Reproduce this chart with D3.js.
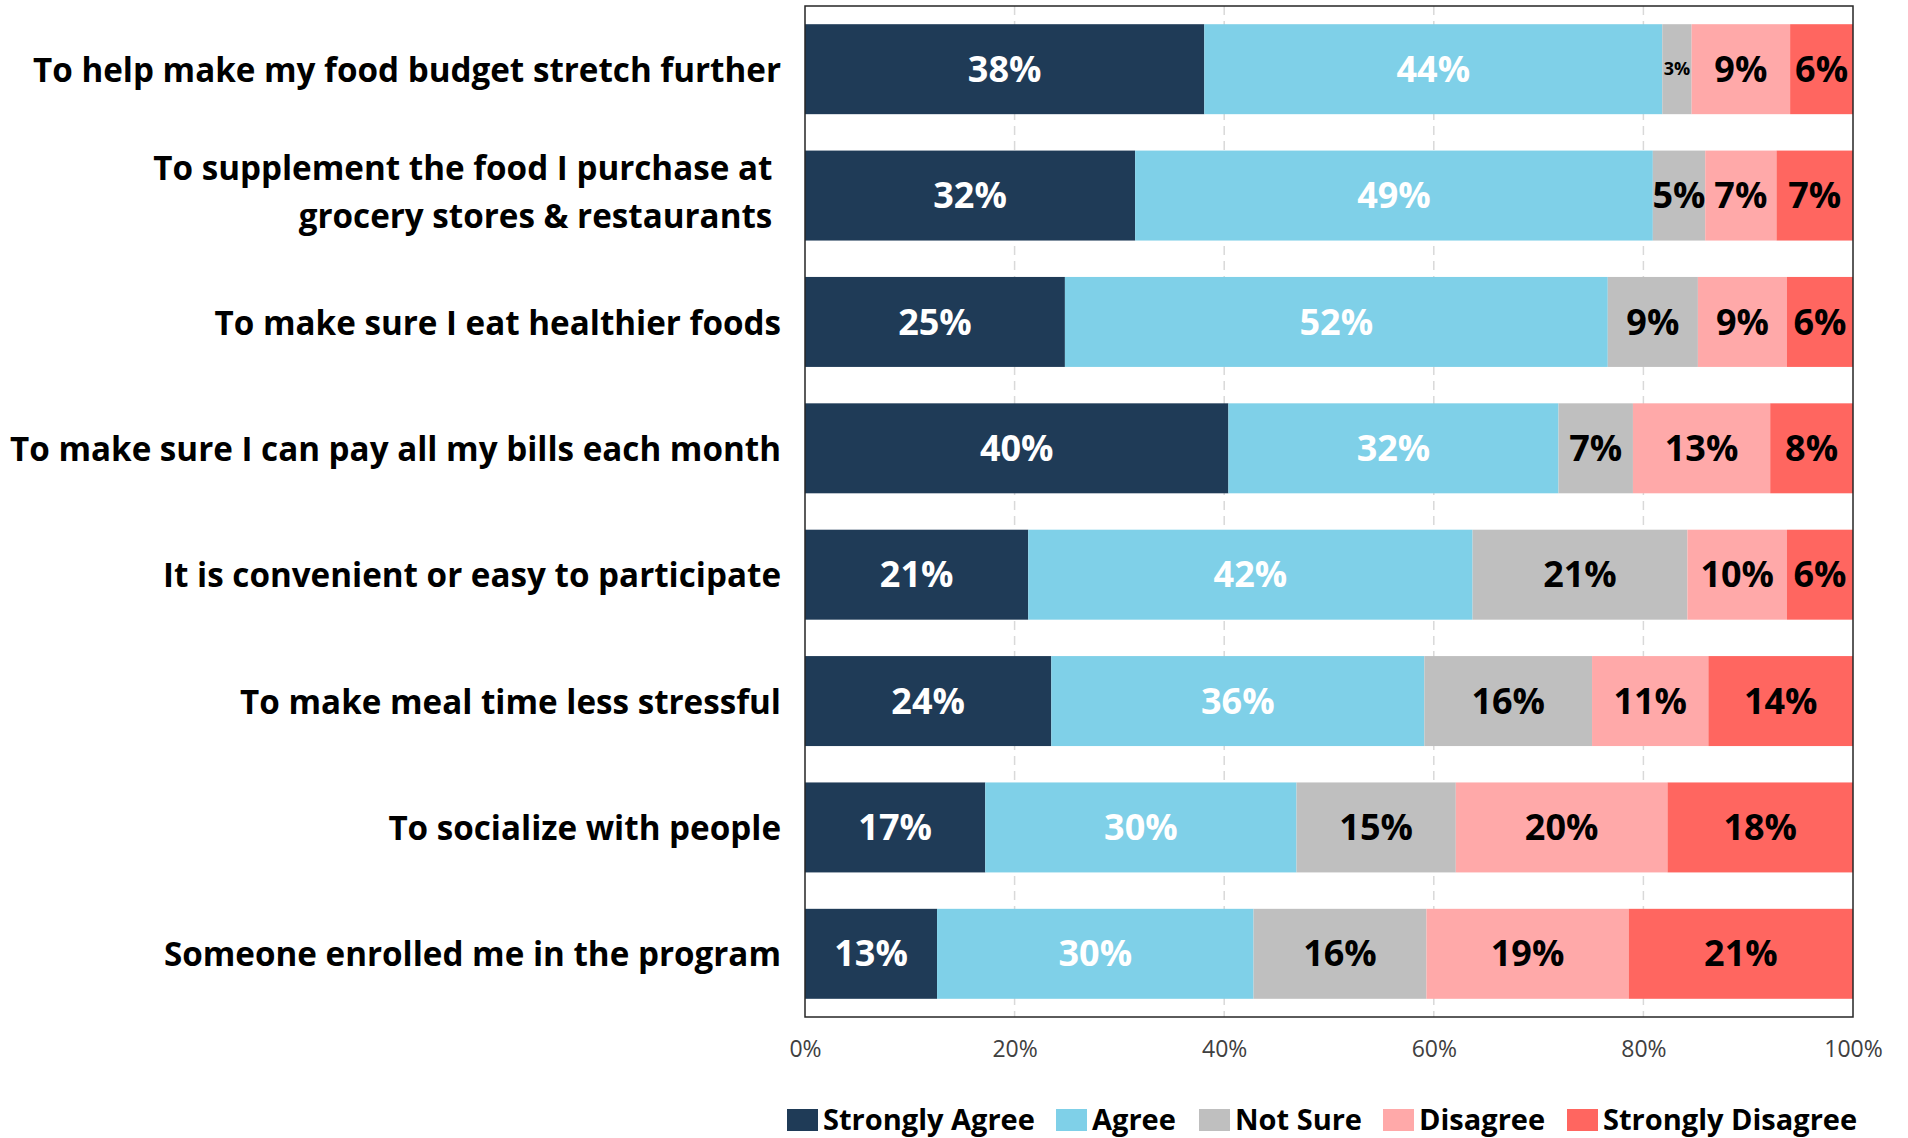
<!DOCTYPE html>
<html>
<head>
<meta charset="utf-8">
<script src="https://cdn.jsdelivr.net/npm/d3@7"></script>
<style>
  body { margin: 0; background: #fff; }
  svg { display: block; font-family: 'Open Sans', sans-serif; }
</style>
</head>
<body>
<div id="chart"></div>
<script>
const categories = [
  ['To help make my food budget stretch further'],
  ['To supplement the food I purchase at ', 'grocery stores & restaurants '],
  ['To make sure I eat healthier foods'],
  ['To make sure I can pay all my bills each month'],
  ['It is convenient or easy to participate'],
  ['To make meal time less stressful'],
  ['To socialize with people'],
  ['Someone enrolled me in the program']
];

const seriesNames = ['Strongly Agree', 'Agree', 'Not Sure', 'Disagree', 'Strongly Disagree'];
const seriesColors = ['#1f3b57', '#7fd0e8', '#bfbfbf', '#ffa9a9', '#ff6660'];
const labelColors = ['#fff', '#fff', '#000', '#000', '#000'];

// percent values per series, one entry per category (top to bottom)
const stronglyAgree = [38.1, 31.5, 24.8, 40.4, 21.3, 23.5, 17.2, 12.6];
const agree = [43.7, 49.4, 51.8, 31.5, 42.4, 35.6, 29.7, 30.2];
const notSure = [2.8, 5.0, 8.6, 7.1, 20.5, 16.0, 15.2, 16.5];
const disagree = [9.4, 6.8, 8.5, 13.1, 9.5, 11.1, 20.2, 19.3];
const stronglyDisagree = [6.0, 7.3, 6.3, 7.9, 6.3, 13.8, 17.7, 21.4];
// labels as printed on the bars
const labelText = [
  ['38%', '44%', '3%', '9%', '6%'],
  ['32%', '49%', '5%', '7%', '7%'],
  ['25%', '52%', '9%', '9%', '6%'],
  ['40%', '32%', '7%', '13%', '8%'],
  ['21%', '42%', '21%', '10%', '6%'],
  ['24%', '36%', '16%', '11%', '14%'],
  ['17%', '30%', '15%', '20%', '18%'],
  ['13%', '30%', '16%', '19%', '21%']
];
const xTicks = [0, 20, 40, 60, 80, 100];

const series = [stronglyAgree, agree, notSure, disagree, stronglyDisagree];

const W = 1908, H = 1138;
const margin = { top: 6, left: 805, right: 55, bottom: 121 };
const width = W - margin.left - margin.right;
const height = H - margin.top - margin.bottom;

const svg = d3.select('#chart').append('svg')
  .attr('width', W)
  .attr('height', H);

const g = svg.append('g')
  .attr('transform', `translate(${margin.left},${margin.top})`);

const x = d3.scaleLinear().domain([0, 100]).range([0, width]);
const y = d3.scaleBand()
  .domain(d3.range(categories.length))
  .range([0, height])
  .paddingInner(0.288)
  .paddingOuter(0.144);

// dashed grid
g.append('g')
  .selectAll('line')
  .data(xTicks.slice(1, -1))
  .enter()
  .append('line')
  .attr('x1', d => x(d))
  .attr('x2', d => x(d))
  .attr('y1', 0)
  .attr('y2', height)
  .attr('stroke', '#d9d9d9')
  .attr('stroke-width', 1.5)
  .attr('stroke-dasharray', '9,6');

// stacked rows
const rows = categories.map((c, i) => {
  let acc = 0;
  return series.map((s, k) => {
    const seg = { row: i, k, x0: acc, x1: acc + s[i], label: labelText[i][k] };
    acc += s[i];
    return seg;
  });
}).flat();

g.append('g')
  .selectAll('rect')
  .data(rows)
  .enter()
  .append('rect')
  .attr('x', d => x(d.x0))
  .attr('y', d => y(d.row))
  .attr('width', d => x(d.x1) - x(d.x0))
  .attr('height', y.bandwidth())
  .attr('fill', d => seriesColors[d.k]);

g.append('g')
  .selectAll('text')
  .data(rows)
  .enter()
  .append('text')
  .attr('x', d => x((d.x0 + d.x1) / 2))
  .attr('y', d => y(d.row) + y.bandwidth() / 2)
  .attr('dy', '0.35em')
  .attr('text-anchor', 'middle')
  .attr('font-weight', 700)
  .attr('font-size', d => (d.x1 - d.x0) < 4 ? '18px' : '36px')
  .attr('fill', d => labelColors[d.k])
  .text(d => d.label);

// frame
g.append('rect')
  .attr('width', width)
  .attr('height', height)
  .attr('fill', 'none')
  .attr('stroke', '#262626')
  .attr('stroke-width', 1.5);

// category labels
const catG = g.append('g');
categories.forEach((lines, i) => {
  const cy = y(i) + y.bandwidth() / 2 + (lines.length > 1 ? -3 : 1);
  const lh = 48;
  const t = catG.append('text')
    .attr('x', -24)
    .attr('text-anchor', 'end')
    .attr('font-weight', 700)
    .attr('font-size', '33.2px')
    .attr('fill', '#000');
  lines.forEach((line, j) => {
    t.append('tspan')
      .attr('x', -24)
      .attr('y', cy + (j - (lines.length - 1) / 2) * lh)
      .attr('dy', '0.35em')
      .style('white-space', 'pre')
      .text(line);
  });
});

// x axis
const xAxis = g.append('g')
  .attr('transform', `translate(0,${height})`)
  .call(d3.axisBottom(x).tickValues(xTicks).tickFormat(d => d + '%').tickSize(0).tickPadding(24));
xAxis.select('.domain').remove();
xAxis.selectAll('text')
  .attr('font-family', "'Open Sans', sans-serif")
  .attr('font-size', '23px')
  .attr('fill', '#404040');

// legend
const legendX = [787, 1056, 1199, 1383, 1567];
const legend = svg.append('g');
seriesNames.forEach((name, k) => {
  legend.append('rect')
    .attr('x', legendX[k])
    .attr('y', 1109)
    .attr('width', 31)
    .attr('height', 22)
    .attr('fill', seriesColors[k]);
  legend.append('text')
    .attr('x', legendX[k] + 36)
    .attr('y', 1120)
    .attr('dy', '0.35em')
    .attr('font-weight', 700)
    .attr('font-size', '29px')
    .attr('fill', '#000')
    .text(name);
});
</script>
</body>
</html>
